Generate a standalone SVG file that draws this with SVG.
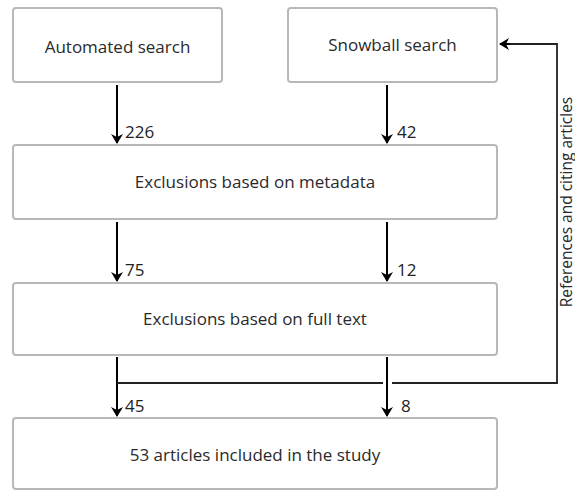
<svg xmlns="http://www.w3.org/2000/svg" width="575" height="491" viewBox="0 0 575 491">
<defs>
<marker id="ah" markerWidth="10" markerHeight="12" refX="9" refY="6" orient="auto" markerUnits="userSpaceOnUse">
<path d="M0,0 L10,6 L0,12 L3,6 Z" fill="#000"/>
</marker>
</defs>
<style>
.box{fill:#fff;stroke:#b8b8b8;stroke-width:2}
.t{font-family:"Open Sans","Noto Sans",sans-serif;font-size:17px;fill:#2a2a2a;text-anchor:middle}
.r{font-family:"Open Sans","Noto Sans",sans-serif;font-size:15.5px;fill:#2a2a2a;text-anchor:middle}
.n{font-family:"Open Sans","Noto Sans",sans-serif;font-size:17px;fill:#222}
.c{fill:none;stroke:#000;stroke-width:2}
.f{fill:none;stroke:#222;stroke-width:1.8}
</style>
<rect width="575" height="491" fill="#fff"/>
<g id="automated">
<rect class="box" x="13" y="8" width="209" height="74" rx="3"/>
<text class="t" x="117.5" y="53">Automated search</text>
</g>
<g id="snowball">
<rect class="box" x="288" y="8" width="209" height="74" rx="3"/>
<text class="t" x="392.5" y="51">Snowball search</text>
</g>
<g id="metadata">
<rect class="box" x="13" y="145" width="484" height="74" rx="3"/>
<text class="t" x="255" y="188">Exclusions based on metadata</text>
</g>
<g id="fulltext">
<rect class="box" x="13" y="283" width="484" height="72" rx="3"/>
<text class="t" x="255" y="325">Exclusions based on full text</text>
</g>
<g id="included">
<rect class="box" x="13" y="418" width="484" height="71" rx="3"/>
<text class="t" x="255" y="461">53 articles included in the study</text>
</g>
<g id="connectors">
<path class="c" d="M117,85 V143" marker-end="url(#ah)"/>
<path class="c" d="M387,85 V143" marker-end="url(#ah)"/>
<path class="c" d="M117,222 V281" marker-end="url(#ah)"/>
<path class="c" d="M387,222 V281" marker-end="url(#ah)"/>
<path class="c" d="M117,357 V416" marker-end="url(#ah)"/>
<path class="c" d="M387,357 V416" marker-end="url(#ah)"/>
<path class="f" d="M117,383 H383 M392,383 H557 V44 H508"/>
<path class="c" d="M510,44 H500" marker-end="url(#ah)"/>
<text class="n" x="125" y="138">226</text>
<text class="n" x="397" y="138">42</text>
<text class="n" x="125" y="276">75</text>
<text class="n" x="397" y="276">12</text>
<text class="n" x="125" y="412">45</text>
<text class="n" x="401" y="412">8</text>
<text class="r" transform="translate(571.5,202) rotate(-90)">References and citing articles</text>
</g>
</svg>
